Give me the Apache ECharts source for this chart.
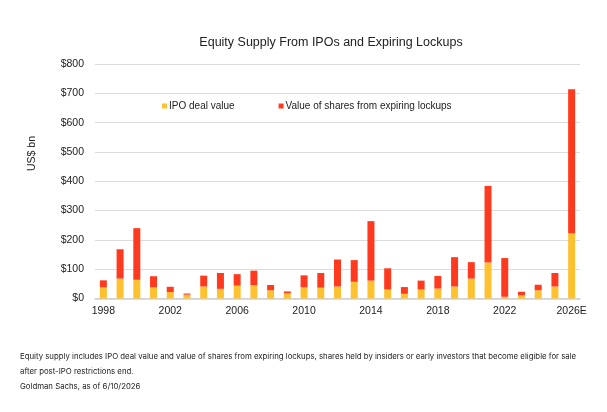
<!DOCTYPE html>
<html>
<head>
    <meta charset="utf-8">
    <title>Equity Supply</title>
    <script src="https://cdn.jsdelivr.net/npm/echarts@6/dist/echarts.min.js"></script>
    <style>
        html, body { margin: 0; padding: 0; background: #fff; }
        #main { width: 607px; height: 412px; }
    </style>
</head>
<body>
<div id="main"></div>
<script type="text/javascript">
    // data (US$ bn)
    var years = ['1998', '1999', '2000', '2001', '2002', '2003', '2004', '2005', '2006', '2007',
        '2008', '2009', '2010', '2011', '2012', '2013', '2014', '2015', '2016', '2017',
        '2018', '2019', '2020', '2021', '2022', '2023', '2024', '2025', '2026E'];
    var ipoValue = [38, 68, 64, 38, 22, 13, 41, 33, 44, 46,
        28, 18, 38, 37, 41, 57, 61, 31, 16, 31,
        34, 41, 68, 123, 6, 11, 28, 41, 223];
    var lockupValue = [24, 100, 176, 38, 18, 4, 37, 54, 39, 49,
        18, 6, 41, 50, 92, 74, 203, 72, 23, 30,
        43, 100, 56, 261, 132, 12, 19, 46, 491];
    var yTicks = ['$0', '$100', '$200', '$300', '$400', '$500', '$600', '$700', '$800'];

    var myChart = echarts.init(document.getElementById('main'), null, {renderer: 'canvas'});

    var font = '"Liberation Sans", Arial, sans-serif';
    var noteFont = 'Inter, "Liberation Sans", sans-serif';

    var option = {
        animation: false,
        title: {
            text: 'Equity Supply From IPOs and Expiring Lockups',
            left: 326,
            textAlign: 'center',
            top: 31,
            textStyle: {fontFamily: font, fontSize: 12.5, fontWeight: 'normal', color: '#222'}
        },
        legend: {
            left: 157,
            top: 96,
            itemWidth: 5,
            itemHeight: 5,
            itemGap: 44,
            icon: 'rect',
            textStyle: {fontFamily: font, fontSize: 10, color: '#222', padding: [0, 0, 0, -3]},
            data: ['IPO deal value', 'Value of shares from expiring lockups']
        },
        grid: {left: 95, right: 27, top: 64, bottom: 113.5},
        xAxis: {
            type: 'category',
            data: years,
            axisTick: {show: false},
            axisLine: {lineStyle: {color: '#d0d0d0', width: 1.5}},
            axisLabel: {
                interval: 3,
                fontFamily: font,
                fontSize: 10.5,
                color: '#222',
                margin: 7
            }
        },
        yAxis: {
            type: 'value',
            min: 0,
            max: 800,
            interval: 100,
            axisLine: {show: false},
            axisTick: {show: false},
            splitLine: {lineStyle: {color: '#dcdcdc', width: 1}},
            axisLabel: {
                fontFamily: font,
                fontSize: 10.5,
                color: '#222',
                margin: 11,
                formatter: function (v) { return yTicks[Math.round(v / 100)]; }
            }
        },
        graphic: [
            {
                type: 'text',
                left: 27,
                top: 136,
                rotation: Math.PI / 2,
                style: {text: 'US$ bn', fontFamily: font, fontSize: 10.5, fill: '#222'}
            },
            {
                type: 'text',
                left: 20,
                top: 349,
                style: {
                    text: 'Equity supply includes IPO deal value and value of shares from expiring lockups, shares held by insiders or early investors that become eligible for sale\nafter post-IPO restrictions end.\nGoldman Sachs, as of 6/10/2026',
                    fontFamily: noteFont,
                    fontSize: 7.8,
                    lineHeight: 15,
                    fill: '#222'
                }
            }
        ],
        series: [
            {
                name: 'IPO deal value',
                type: 'bar',
                stack: 'supply',
                barWidth: 7,
                itemStyle: {color: '#FEC130'},
                data: ipoValue
            },
            {
                name: 'Value of shares from expiring lockups',
                type: 'bar',
                stack: 'supply',
                barWidth: 7,
                itemStyle: {color: '#FF3A1F'},
                data: lockupValue
            }
        ]
    };

    myChart.setOption(option);
</script>
</body>
</html>
